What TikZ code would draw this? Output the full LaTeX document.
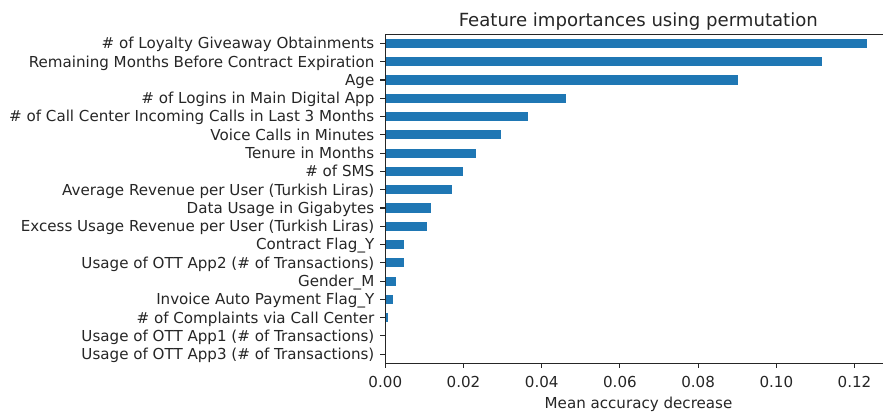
\documentclass[tikz,border=0pt]{standalone}
\usepackage{fontspec}
\setmainfont{DejaVu Sans}
\definecolor{barblue}{HTML}{1F77B4}
\definecolor{ink}{HTML}{262626}
\begin{document}
\begin{tikzpicture}[x=1pt,y=-1pt,
  lbl/.style={font=\fontsize{15.1}{17}\selectfont, text=ink, inner sep=0pt},
  ttl/.style={font=\fontsize{18.1}{21}\selectfont, text=ink, inner sep=0pt},
  bar/.style={fill=barblue},
  spine/.style={line width=1.1pt, draw=ink},
  tickmark/.style={line width=1.1pt, draw=ink}]
\useasboundingbox (0,0) rectangle (883,412);
\clip (0,0) rectangle (883,412);
\fill[white] (0,0) rectangle (883,412);
% bars, y ticks and labels
\foreach \i/\v/\t in {
  0/0.1233/{\# of Loyalty Giveaway Obtainments},
  1/0.1116/{Remaining Months Before Contract Expiration},
  2/0.0903/{Age},
  3/0.0463/{\# of Logins in Main Digital App},
  4/0.0366/{\# of Call Center Incoming Calls in Last 3 Months},
  5/0.0296/{Voice Calls in Minutes},
  6/0.0233/{Tenure in Months},
  7/0.0199/{\# of SMS},
  8/0.0171/{Average Revenue per User (Turkish Liras)},
  9/0.0118/{Data Usage in Gigabytes},
  10/0.0107/{Excess Usage Revenue per User (Turkish Liras)},
  11/0.0049/{Contract Flag\_Y},
  12/0.0048/{Usage of OTT App2 (\# of Transactions)},
  13/0.0028/{Gender\_M},
  14/0.0020/{Invoice Auto Payment Flag\_Y},
  15/0.0006/{\# of Complaints via Call Center},
  16/0.0002/{Usage of OTT App1 (\# of Transactions)},
  17/0.0001/{Usage of OTT App3 (\# of Transactions)}}{
  \pgfmathsetmacro\yc{34.3+(\i+0.5)*18.28}
  \pgfmathsetmacro\xe{385.3+\v*3910}
  \fill[bar] (385.3,\yc-4.57) rectangle (\xe,\yc+4.57);
  \draw[tickmark] (380.4,\yc) -- (385.3,\yc);
  \node[lbl, anchor=base east] (yl\i) at (374.5,\yc+5.4) {\t};
}
% x ticks
\foreach \k/\t in {0/0.00,1/0.02,2/0.04,3/0.06,4/0.08,5/0.10,6/0.12}{
  \pgfmathsetmacro\xc{385.3+\k*78.2}
  \draw[tickmark] (\xc,363.3) -- (\xc,368.2);
  \node[lbl, anchor=base] (xl\k) at (\xc,387.5) {\t};
}
% spines
\draw[spine] (385.3,363.3) -- (385.3,34.3) -- (891.6,34.3);
\draw[spine] (385.3,363.3) -- (891.6,363.3);
% labels
\node[lbl, anchor=base] (xlabel) at (638.5,408) {Mean accuracy decrease};
\node[ttl, anchor=base] (title) at (638.3,26.5) {Feature importances using permutation};
\end{tikzpicture}
\end{document}
